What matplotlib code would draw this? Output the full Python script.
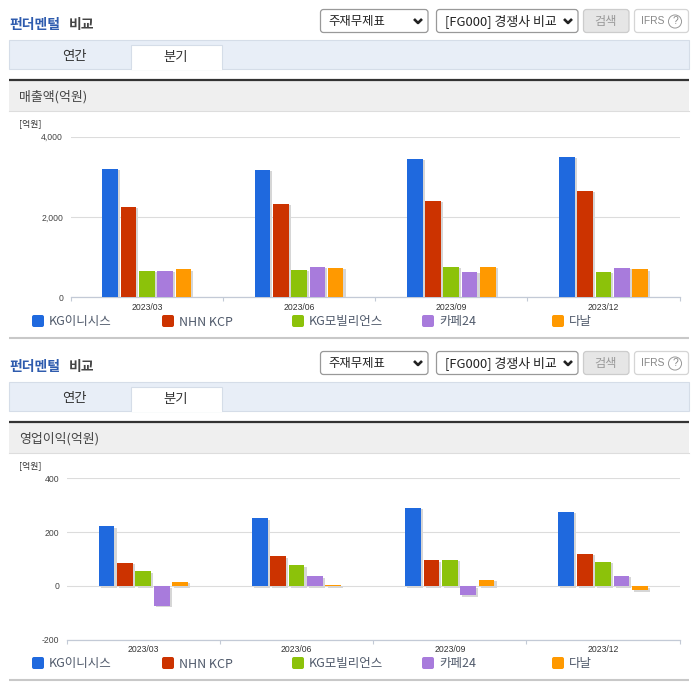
# Fundamental comparison panels (sales and operating profit by quarter)

# ################### IMPORT ####################
import matplotlib
matplotlib.use("Agg")
import matplotlib.patheffects as pe
import matplotlib.pyplot as plt
from matplotlib.patches import FancyBboxPatch, Rectangle


# ################### VARS ####################
quarters = ["2023/03", "2023/06", "2023/09", "2023/12"]
companies = ["KG이니시스", "NHN KCP", "KG모빌리언스", "카페24", "다날"]
colors = ["#1f69de", "#cc3300", "#8cc20a", "#a87bdc", "#ff9900"]

# 매출액(억원)
salesInicis = [3207, 3180, 3455, 3505]
salesKcp = [2256, 2330, 2405, 2655]
salesMobilians = [662, 687, 762, 637]
salesCafe24 = [662, 762, 637, 737]
salesDanal = [697, 737, 762, 697]

# 영업이익(억원)
profitInicis = [223, 253, 291, 276]
profitKcp = [86, 110, 95, 120]
profitMobilians = [54, 76, 97, 90]
profitCafe24 = [-73, 35, -35, 38]
profitDanal = [16, 5, 23, -17]

salesTicks = [0, 2000, 4000]
salesTickLabels = ["0", "2,000", "4,000"]
profitTicks = [-200, 0, 200, 400]
profitTickLabels = ["-200", "0", "200", "400"]

W, H = 696, 684
KR = ["Noto Sans CJK KR", "DejaVu Sans"]
LATIN = ["Liberation Sans", "DejaVu Sans"]
GRID = "#dcdcdc"
AXIS = "#c3cad6"


# ################### FUNCTIONS ####################
def box(bg, x0, y0, x1, y1, face, edge="none", lw=0.8, radius=0):
    if radius:
        bg.add_patch(FancyBboxPatch((x0, y0), x1 - x0, y1 - y0,
                                    boxstyle="round,pad=0,rounding_size=%s" % radius,
                                    fc=face, ec=edge, lw=lw))
    else:
        bg.add_patch(Rectangle((x0, y0), x1 - x0, y1 - y0, fc=face, ec=edge, lw=lw))


def chevron(bg, x, y):
    bg.plot([x - 4, x, x + 4], [y - 2, y + 2, y - 2], color="#222222", lw=1.9,
            solid_capstyle="butt")


# Header, tabs and legend of one panel, dy is the vertical shift of the panel
def drawFrame(bg, dy, title):
    bg.text(9.5, 25 + dy, "펀더멘털", family=KR, fontsize=10, weight="bold",
            color="#2f5cae", va="center")
    bg.text(69, 25 + dy, "비교", family=KR, fontsize=10, weight="bold",
            color="#444444", va="center")

    box(bg, 320.5, 9.5 + dy, 428, 32.5 + dy, "white", "#999999", 0.9, 3)
    bg.text(328.5, 21.5 + dy, "주재무제표", family=KR, fontsize=8.9, color="#222222", va="center")
    chevron(bg, 418, 21 + dy)
    box(bg, 436.5, 9.5 + dy, 578, 32.5 + dy, "white", "#999999", 0.9, 3)
    bg.text(445, 21.5 + dy, "[FG000] 경쟁사 비교", family=KR, fontsize=9.3,
            color="#222222", va="center")
    chevron(bg, 568, 21 + dy)
    box(bg, 583.5, 9.5 + dy, 629, 32.5 + dy, "#e6e6e6", "#cccccc", 0.9, 3)
    bg.text(606, 21.5 + dy, "검색", family=KR, fontsize=8.8, color="#999999",
            ha="center", va="center")
    box(bg, 634.5, 9.5 + dy, 688.5, 32.5 + dy, "white", "#d5d5d5", 0.9, 3)
    bg.text(641, 21 + dy, "IFRS", family=LATIN, fontsize=7.4, color="#888888", va="center")
    bg.text(675, 21.5 + dy, "?", family=LATIN, fontsize=7.4, color="#888888",
            ha="center", va="center",
            bbox=dict(boxstyle="circle,pad=0.15", fc="white", ec="#999999", lw=0.7))

    box(bg, 9, 39.5 + dy, 688.5, 68.5 + dy, "#e8eef7", "#d5dde8", 0.8)
    box(bg, 131, 44.5 + dy, 222, 69 + dy, "white", "#d5dde8", 0.8)
    bg.add_patch(Rectangle((131.5, 67.5 + dy), 90, 2.5, fc="white", ec="none"))
    bg.text(74, 56 + dy, "연간", family=KR, fontsize=9.6, color="#333333",
            ha="center", va="center")
    bg.text(176, 57 + dy, "분기", family=KR, fontsize=9.6, color="#333333",
            ha="center", va="center")

    box(bg, 9, 81 + dy, 689, 111 + dy, "#efefef", "none")
    bg.plot([9, 689], [111 + dy, 111 + dy], color="#dddddd", lw=0.8)
    bg.plot([9, 689], [80 + dy, 80 + dy], color="#333333", lw=1.6, solid_capstyle="butt")
    bg.text(19, 97 + dy, title, family=KR, fontsize=9.3, color="#444444", va="center")
    bg.text(19.5, 124 + dy, "[억원]", family=KR, fontsize=6.4, color="#333333", va="center")

    # legend
    for i in range(len(companies)):
        x = 32 + 130 * i
        box(bg, x, 315 + dy, x + 12, 327 + dy, colors[i], "none", 0, 2)
        bg.text(x + 17, 322 + dy, companies[i], family=KR, fontsize=9,
                color="#505a6b", va="center")

    bg.plot([9, 689], [338 + dy, 338 + dy], color="#c8c8c8", lw=1.5, solid_capstyle="butt")


# Grouped bars with the grey offset shadow of the original chart
def drawChart(fig, box_px, series, ticks, tickLabels, ylim):
    left, top, right, bottom = box_px
    ax = fig.add_axes([left / W, 1 - bottom / H, (right - left) / W, (bottom - top) / H])
    ax.patch.set_alpha(0)
    shadow = [pe.withSimplePatchShadow(offset=(1.5, -1.2), shadow_rgbFace="#d6d6d6", alpha=1)]

    for i, values in enumerate(series):
        xs = [k + 0.5 + (i - 2) * 0.12 for k in range(len(quarters))]
        bars = ax.bar(xs, values, width=0.103, color=colors[i], zorder=3)
        for bar in bars:
            bar.set_path_effects(shadow)

    ax.set_xlim(0, len(quarters))
    ax.set_ylim(*ylim)
    ax.set_yticks(ticks)
    ax.set_yticklabels(tickLabels, family=LATIN, fontsize=6.2, color="#444444")
    ax.tick_params(axis="y", length=0, pad=5.5)
    ax.grid(axis="y", color=GRID, lw=0.8, zorder=0)
    ax.set_axisbelow(True)

    ax.set_xticks(range(len(quarters) + 1))
    ax.set_xticklabels([])
    ax.set_xticks([k + 0.5 for k in range(len(quarters))], minor=True)
    ax.set_xticklabels(quarters, minor=True, family=LATIN, fontsize=6.2, color="#333333")
    ax.tick_params(axis="x", which="major", length=3, width=0.8, color=AXIS)
    ax.tick_params(axis="x", which="minor", length=0, pad=4)

    for side in ["top", "left", "right"]:
        ax.spines[side].set_visible(False)
    ax.spines["bottom"].set_color(AXIS)
    ax.spines["bottom"].set_linewidth(0.9)
    return ax


# Main Function
def main():
    fig = plt.figure(figsize=(W / 100, H / 100), dpi=100, facecolor="white")
    bg = fig.add_axes([0, 0, 1, 1])
    bg.set_xlim(0, W)
    bg.set_ylim(H, 0)
    bg.axis("off")

    drawFrame(bg, 0, "매출액(억원)")
    drawFrame(bg, 342, "영업이익(억원)")

    drawChart(fig, (70.7, 136.7, 679.7, 297.3),
              [salesInicis, salesKcp, salesMobilians, salesCafe24, salesDanal],
              salesTicks, salesTickLabels, (0, 4000))
    drawChart(fig, (66.7, 478.3, 679.7, 639.7),
              [profitInicis, profitKcp, profitMobilians, profitCafe24, profitDanal],
              profitTicks, profitTickLabels, (-200, 400))

    fig.savefig("out.png", dpi=100)


main()
